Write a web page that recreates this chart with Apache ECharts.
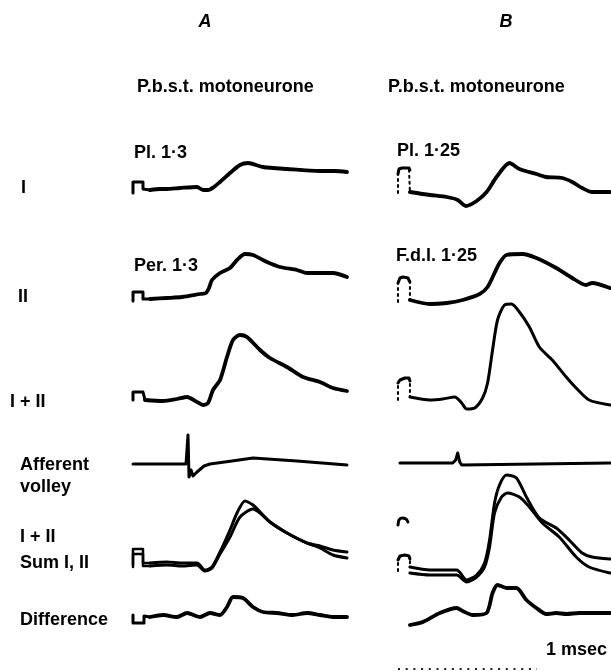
<!DOCTYPE html>
<html>
<head>
<meta charset="utf-8">
<script src="https://cdn.jsdelivr.net/npm/echarts@6/dist/echarts.min.js"></script>
<style>
  html, body { margin: 0; padding: 0; background: #fff; }
  #chart { width: 611px; height: 671px; }
</style>
</head>
<body>
<div id="chart"></div>
<script>
// time in trace units (0..215), deflection in trace units, positive = up
// column A
const aPulse1 = [[1, -3], [1, 8], [11, 8], [11, 1], [18, 0]]
const aTrace1 = [[18, 0], [28, 1], [34, 1], [48, 2], [65, 3], [71, 0], [76, 0], [82, 3], [88, 8], [98, 17], [108, 25], [116, 27], [131, 23], [155, 21], [188, 19], [203, 19], [215, 18]]
const aPulse2 = [[1, -3], [1, 6], [11, 6], [11, -1], [18, -1]]
const aTrace2 = [[18, -1], [35, 0], [50, 1], [68, 4], [74, 5], [77, 10], [80, 18], [88, 25], [98, 30], [105, 38], [113, 44], [121, 43], [135, 36], [148, 31], [165, 28], [175, 25], [188, 25], [201, 25], [215, 21]]
const aPulse3 = [[1, -2], [1, 6], [11, 6], [13, -2]]
const aTrace3 = [[13, -2], [31, -3], [45, -1], [55, 1], [65, -4], [71, -7], [76, -5], [81, 8], [88, 18], [95, 41], [101, 58], [108, 63], [115, 61], [128, 48], [138, 40], [155, 31], [171, 21], [188, 16], [201, 10], [215, 7]]
const aVolley = [[1, 0], [54, 0], [56, 29], [57, -13], [59, -6], [61, -12], [65, -8], [72, -2], [78, 0], [100, 3], [121, 6], [165, 3], [215, -1]]
const aPulse5 = [[1, 0], [1, 16], [11, 16], [11, 2], [18, 2]]
const aPulse5b = [[1, -2], [1, 11], [11, 11], [11, -1], [18, -1]]
const aRecorded = [[18, 2], [35, 3], [50, 2], [65, 2], [73, -5], [80, -2], [88, 13], [98, 35], [105, 52], [113, 64], [121, 60], [138, 43], [155, 32], [175, 22], [188, 19], [201, 15], [215, 13]]
const aSummed = [[18, -1], [35, 0], [50, -1], [65, 0], [73, -6], [80, -3], [88, 11], [98, 28], [108, 48], [121, 56], [128, 52], [138, 43], [155, 32], [175, 22], [188, 17], [201, 10], [215, 7]]
const aPulse6 = [[1, 1], [1, -7], [12, -7], [12, 0], [18, -1]]
const aDiff = [[18, -1], [31, 1], [45, -1], [55, 3], [68, -1], [78, 3], [88, 1], [95, 9], [101, 19], [111, 18], [121, 9], [131, 4], [145, 3], [161, 1], [175, 3], [188, 1], [201, -1], [215, -1]]

// column B
const bPulse1 = [[1, -3], [1, 16], [2, 21], [5, 22], [12, 22], [13, 20], [13, -2]]
const bTrace1 = [[13, -2], [33, -5], [50, -7], [61, -10], [69, -16], [80, -11], [90, -2], [100, 13], [113, 27], [123, 21], [140, 16], [150, 13], [166, 12], [176, 8], [186, 2], [196, -2], [214, -2]]
const bPulse2 = [[1, -4], [1, 15], [3, 20], [6, 21], [11, 20], [13, 16], [13, -2]]
const bTrace2 = [[13, -2], [33, -6], [50, -5], [66, -2], [83, 4], [91, 11], [98, 25], [103, 35], [110, 43], [126, 44], [140, 40], [160, 30], [176, 20], [190, 13], [196, 15], [214, 10]]
const bPulse3 = [[1, -2], [1, 15], [3, 18], [8, 20], [12, 20], [13, 17], [13, 1]]
const bTrace3 = [[13, 1], [33, -2], [46, -1], [58, 1], [65, -5], [70, -11], [78, -10], [86, 0], [91, 15], [96, 48], [101, 78], [108, 93], [115, 94], [123, 86], [133, 71], [143, 51], [156, 38], [170, 21], [180, 10], [193, -2], [214, -7]]
const bVolley = [[3, 1], [56, 1], [59, 4], [61, 11], [63, 2], [65, -1], [67, 1], [214, 1]]
const bFrag5 = [[1, 40], [2, 45], [5, 47], [9, 46], [11, 43]]
const bPulse5 = [[1, -6], [1, 5], [3, 9], [8, 10], [12, 9], [13, 6], [13, -2]]
const bRecorded = [[13, -2], [33, -5], [60, -5], [70, -15], [80, -10], [88, 2], [93, 25], [98, 62], [103, 80], [110, 90], [120, 87], [130, 68], [143, 47], [160, 37], [173, 25], [186, 12], [196, 8], [214, 6]]
const bSummed = [[13, -8], [33, -10], [60, -10], [70, -17], [80, -12], [88, -2], [93, 18], [98, 52], [105, 68], [111, 72], [123, 68], [133, 58], [146, 42], [163, 28], [180, 8], [193, -2], [214, -8]]
const bDiff = [[13, -9], [26, -6], [43, 3], [60, 8], [66, 5], [76, 1], [90, 3], [96, 23], [101, 31], [110, 28], [120, 28], [130, 16], [140, 8], [150, 2], [160, 3], [170, 2], [183, 3], [214, 3]]

const rowLabels = ['I', 'II', 'I + II', 'Afferent\nvolley', 'I + II\nSum I, II', 'Difference']
const columnTitles = ['A', 'B']

// layout
const rowBase = [190, 298, 398, 464, 565, 616]
const colLeft = [132, 397]
const FONT = '"Liberation Sans", Arial, sans-serif'

const grids = []
const xAxes = []
const yAxes = []
for (let c = 0; c < 2; c++) {
  for (let r = 0; r < 6; r++) {
    grids.push({ left: colLeft[c], top: rowBase[r] - 100, width: 215, height: 140 })
    xAxes.push({ type: 'value', min: 0, max: 215, show: false, gridIndex: grids.length - 1 })
    yAxes.push({ type: 'value', min: -40, max: 100, show: false, gridIndex: grids.length - 1 })
  }
}
const gi = (c, r) => c * 6 + r

function trace(data, c, r, opts = {}) {
  return {
    type: 'line',
    data,
    xAxisIndex: gi(c, r),
    yAxisIndex: gi(c, r),
    showSymbol: false,
    silent: true,
    smooth: opts.smooth ?? 0.25,
    lineStyle: {
      color: '#000',
      width: opts.width ?? 3.8,
      type: opts.type ?? 'solid',
      cap: 'round',
      join: 'round'
    }
  }
}

const series = [
  trace(aPulse1, 0, 0, { smooth: false, width: 3 }),
  trace(aTrace1, 0, 0),
  trace(aPulse2, 0, 1, { smooth: false, width: 3 }),
  trace(aTrace2, 0, 1),
  trace(aPulse3, 0, 2, { smooth: false, width: 3 }),
  trace(aTrace3, 0, 2),
  trace(aVolley, 0, 3, { smooth: false, width: 3 }),
  trace(aPulse5, 0, 4, { smooth: false, width: 2.5 }),
  trace(aPulse5b, 0, 4, { smooth: false, width: 2.5 }),
  trace(aRecorded, 0, 4, { width: 3 }),
  trace(aSummed, 0, 4, { width: 3 }),
  trace(aPulse6, 0, 5, { smooth: false, width: 3 }),
  trace(aDiff, 0, 5),

  trace(bPulse1, 1, 0, { smooth: false, width: 2, type: [2, 4] }),
  trace(bPulse1.slice(1, 6), 1, 0, { smooth: false, width: 3 }),
  trace(bTrace1, 1, 0),
  trace(bPulse2, 1, 1, { smooth: false, width: 2, type: [2, 4] }),
  trace(bPulse2.slice(1, 6), 1, 1, { smooth: false, width: 3 }),
  trace(bTrace2, 1, 1),
  trace(bPulse3, 1, 2, { smooth: false, width: 2, type: [2, 4] }),
  trace(bPulse3.slice(1, 6), 1, 2, { smooth: false, width: 3 }),
  trace(bTrace3, 1, 2, { width: 3 }),
  trace(bVolley, 1, 3, { smooth: false, width: 3 }),
  trace(bFrag5, 1, 4, { width: 3 }),
  trace(bPulse5, 1, 4, { smooth: false, width: 2, type: [2, 4] }),
  trace(bPulse5.slice(1, 6), 1, 4, { smooth: false, width: 3 }),
  trace(bRecorded, 1, 4, { width: 3 }),
  trace(bSummed, 1, 4, { width: 3 }),
  trace(bDiff, 1, 5)
]

function label(text, x, y, opts = {}) {
  return {
    type: 'text',
    silent: true,
    style: {
      text,
      x,
      y,
      fill: '#000',
      font: `${opts.style || 'normal'} bold ${opts.size || 18}px ${FONT}`,
      textAlign: opts.align || 'left',
      textVerticalAlign: 'middle',
      align: opts.align || 'left',
      verticalAlign: 'middle',
      lineHeight: opts.lineHeight || 22
    }
  }
}

const rowLabelY = [188, 297, 402, 476, 550, 620]
const graphics = [
  label(columnTitles[0], 205, 22, { style: 'italic', align: 'center' }),
  label(columnTitles[1], 506, 22, { style: 'italic', align: 'center' }),
  label('P.b.s.t. motoneurone', 137, 87),
  label('P.b.s.t. motoneurone', 388, 87),
  label('Pl. 1·3', 134, 153),
  label('Per. 1·3', 134, 266),
  label('Pl. 1·25', 397, 151),
  label('F.d.l. 1·25', 396, 256),
  label(rowLabels[0], 21, rowLabelY[0]),
  label(rowLabels[1], 18, rowLabelY[1]),
  label(rowLabels[2], 10, rowLabelY[2]),
  label(rowLabels[3], 20, rowLabelY[3]),
  label(rowLabels[4], 20, rowLabelY[4], { lineHeight: 26 }),
  label(rowLabels[5], 20, rowLabelY[5]),
  label('1 msec', 607, 650, { align: 'right' }),
  {
    type: 'line',
    silent: true,
    shape: { x1: 398, y1: 669, x2: 537, y2: 669 },
    style: { stroke: '#222', lineWidth: 2, lineDash: [2, 5.7] }
  }
]

const chart = echarts.init(document.getElementById('chart'))
chart.setOption({
  animation: false,
  backgroundColor: '#fff',
  grid: grids,
  xAxis: xAxes,
  yAxis: yAxes,
  series,
  graphic: graphics
})
</script>
</body>
</html>
